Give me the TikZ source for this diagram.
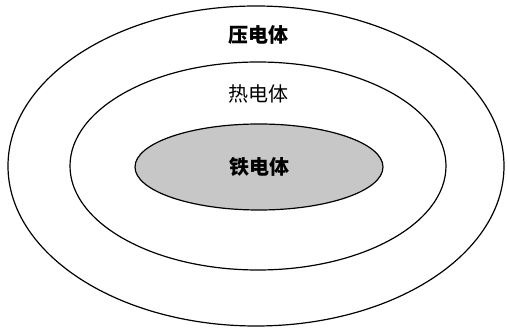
\documentclass[tikz,border=0pt]{standalone}
\usepackage{fontspec}
\newfontfamily\cjk{Noto Sans CJK SC}
\begin{document}
\begin{tikzpicture}[x=1pt,y=-1pt,
  ring/.style={draw=black,line width=1.2pt},
  lbl/.style={font=\cjk\fontsize{20}{20}\selectfont,inner sep=0pt},
  blbl/.style={font=\cjk\bfseries\fontsize{20}{20}\selectfont,inner sep=0pt}]
\useasboundingbox (0,0) rectangle (507,328);
\draw[ring] (256,166) ellipse [x radius=248, y radius=160];
\draw[ring] (258,166) ellipse [x radius=188, y radius=104];
\draw[ring,fill=black!22] (259,167) ellipse [x radius=124, y radius=43];
\node[blbl] (piezo) at (258,35) {压电体};
\node[lbl] (pyro) at (258,94) {热电体};
\node[blbl] (ferro) at (259,167) {铁电体};
\end{tikzpicture}
\end{document}
